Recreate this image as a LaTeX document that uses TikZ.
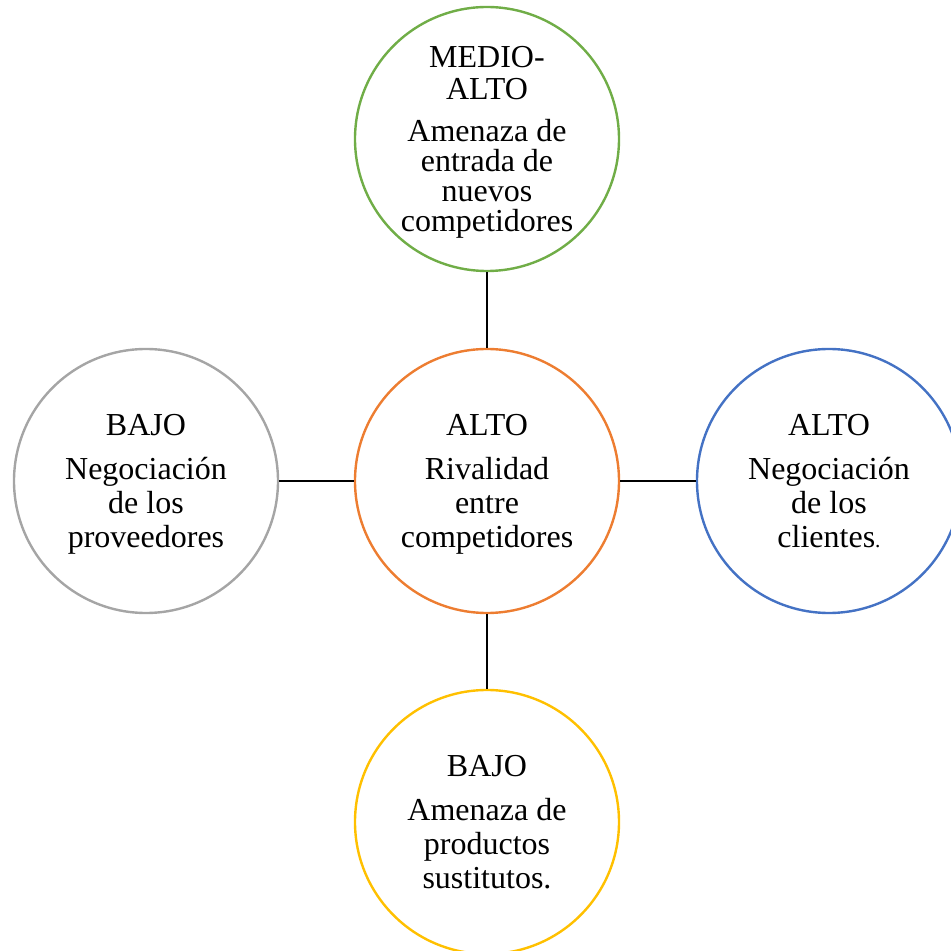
\documentclass[tikz,border=0pt]{standalone}
\usepackage{fontspec}
\setmainfont{Liberation Serif}
\usepackage{tikz}

\definecolor{verde}{HTML}{70AD47}
\definecolor{naranja}{HTML}{ED7D31}
\definecolor{azul}{HTML}{4472C4}
\definecolor{gris}{HTML}{A5A5A5}
\definecolor{amarillo}{HTML}{FFC000}

\tikzset{
	fuerza/.style={shape=circle,line width=1.8pt,minimum size=198pt,inner sep=0pt,
		text depth=0pt,align=center,font=\fontsize{24}{25.5}\selectfont},
	enlace/.style={-,line width=2.2pt,draw=black}
}

\begin{document}
\begin{tikzpicture}[x=0.75pt,y=0.75pt]
	
	\useasboundingbox (0,0) rectangle (951,951);
	\node[fuerza,draw=verde,font=\fontsize{24}{22.5}\selectfont] (nuevos) at (487, 812) {MEDIO-\\[1.5pt]ALTO\\[9.5pt]Amenaza de\\entrada de\\nuevos\\competidores};
	\node[fuerza,draw=naranja]  (rivalidad)   at (487, 470) {ALTO\\[8pt]Rivalidad\\entre\\competidores};
	\node[fuerza,draw=gris]     (proveedores) at (146, 470) {BAJO\\[8pt]Negociación\\de los\\proveedores};
	\node[fuerza,draw=azul]     (clientes)    at (829, 470) {ALTO\\[8pt]Negociación\\de los\\clientes{\fontsize{16}{16}\selectfont.}};
	\node[fuerza,draw=amarillo] (sustitutos)  at (487, 129) {BAJO\\[8pt]Amenaza de\\productos\\sustitutos.};
	\path[enlace] (nuevos)      edge (rivalidad);
	\path[enlace] (proveedores) edge (rivalidad);
	\path[enlace] (rivalidad)   edge (clientes);
	\path[enlace] (rivalidad)   edge (sustitutos);
	
\end{tikzpicture}
\end{document}
